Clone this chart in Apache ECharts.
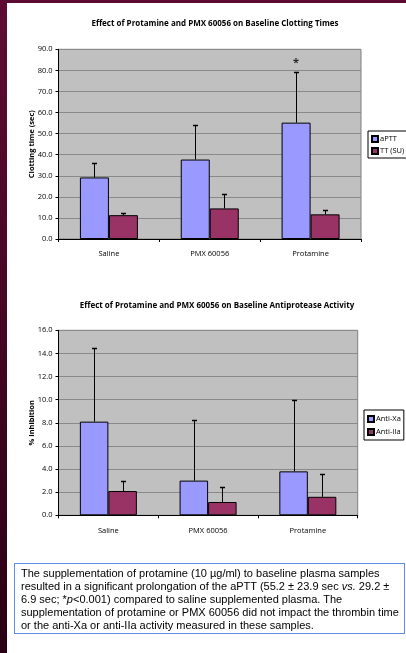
<!DOCTYPE html>
<html>
<head>
<meta charset="utf-8">
<script src="https://cdn.jsdelivr.net/npm/echarts@6/dist/echarts.min.js"></script>
<style>
  html, body { margin:0; padding:0; background:#fff; }
  #wrap { position:relative; width:406px; height:653px; overflow:hidden; background:#fff; }
  #chart { position:absolute; left:0; top:0; width:406px; height:653px; }
  #leftbar { position:absolute; left:0; top:0; width:7px; height:653px; background:linear-gradient(#5e0b33, #2a0014); z-index:5; }
  #topbar { position:absolute; left:0; top:0; width:406px; height:3px; background:#5e0b33; z-index:5; }
  #note { position:absolute; left:14px; top:563px; width:383px; height:66px; border:1px solid #5b8de8; padding:3px 0 0 6px;
          font-family:"Liberation Sans", Arial, sans-serif; font-size:11px; line-height:13.1px; color:#000; white-space:pre; z-index:4; }
</style>
</head>
<body>
<div id="wrap">
  <div id="chart"></div>
  <div id="topbar"></div>
  <div id="leftbar"></div>
  <div id="note">The supplementation of protamine (10 µg/ml) to baseline plasma samples
resulted in a significant prolongation of the aPTT (55.2 ± 23.9 sec <i>vs.</i> 29.2 ±
6.9 sec; *<i>p</i>&lt;0.001) compared to saline supplemented plasma. The
supplementation of protamine or PMX 60056 did not impact the thrombin time
or the anti-Xa or anti-IIa activity measured in these samples.</div>
</div>
<script>
const categories = ['Saline', 'PMX 60056', 'Protamine'];
const aptt = [29.2, 37.7, 55.2];
const apttErr = [6.9, 16.6, 23.9];
const tt = [11.3, 14.5, 11.7];
const ttErr = [0.9, 6.8, 2.0];
const antiXa = [8.1, 3.0, 3.8];
const antiXaErr = [6.4, 5.2, 6.2];
const antiIIa = [2.1, 1.15, 1.6];
const antiIIaErr = [0.9, 1.3, 1.95];
const starPoint = [[2, 84]];

const chart = echarts.init(document.getElementById('chart'), null, {renderer:'canvas'});
const FONT = '"Open Sans", sans-serif';
const BW = 29;

function errRender(offset) {
  return function (params, api) {
    const x = api.value(0), v = api.value(1), e = api.value(2);
    const p0 = api.coord([x, v]);
    const p1 = api.coord([x, v + e]);
    const cx = Math.round(p0[0] + offset) + 0.5;
    const ty = Math.round(p1[1]) + 0.5;
    return {
      type: 'group',
      children: [
        {type:'line', shape:{x1:cx, y1:p0[1], x2:cx, y2:ty}, style:{stroke:'#000', lineWidth:1}},
        {type:'line', shape:{x1:cx-2.5, y1:ty, x2:cx+2.5, y2:ty}, style:{stroke:'#000', lineWidth:1.5}}
      ]
    };
  };
}
function errData(vals, errs) { return vals.map((v, i) => [i, v, errs[i]]); }

function xAxisCfg(gi) {
  return {
    type:'category', gridIndex:gi, data:categories,
    axisLine:{lineStyle:{color:'#000', width:1}},
    axisTick:{show:true, length:3, lineStyle:{color:'#000'}},
    axisLabel:{fontFamily:FONT, fontSize:7.5, color:'#000', margin:gi === 0 ? 11 : 12}
  };
}
function yAxisCfg(gi, max, interval, name) {
  return {
    type:'value', gridIndex:gi, min:0, max:max, interval:interval,
    name:name, nameLocation:'middle', nameGap: 23, nameMoveOverlap:false,
    nameTextStyle:{fontFamily:FONT, fontSize:7.5, fontWeight:'bold', color:'#000'},
    axisLine:{show:true, lineStyle:{color:'#000', width:1}},
    axisTick:{show:true, length:3, lineStyle:{color:'#000'}},
    axisLabel:{fontFamily:FONT, fontSize:7.5, color:'#000', margin:6, formatter: v => v.toFixed(1)},
    splitLine:{show:true, lineStyle:{color:'#8a8a8a', width:1}}
  };
}

const option = {
  animation:false,
  backgroundColor:'transparent',
  title:[
    {text:'Effect of Protamine and PMX 60056 on Baseline Clotting Times', left:210, top:15, textAlign:'center',
     textStyle:{fontFamily:FONT, fontSize:8, fontWeight:'bold', color:'#000'}},
    {text:'Effect of Protamine and PMX 60056 on Baseline Antiprotease Activity', left:212, top:297, textAlign:'center',
     textStyle:{fontFamily:FONT, fontSize:8, fontWeight:'bold', color:'#000'}}
  ],
  grid:[
    {left:58.5, top:49.3, width:302.5, height:189.7, show:true, backgroundColor:'#c0c0c0', borderColor:'#808080', borderWidth:1},
    {left:58.5, top:330.3, width:299.2, height:185, show:true, backgroundColor:'#c0c0c0', borderColor:'#808080', borderWidth:1}
  ],
  legend:[
    {data:['aPTT','TT (SU)'], orient:'vertical', left:368, top:131, padding:[4,3,3,3], itemGap:4,
     itemWidth:6, itemHeight:6, icon:'rect', backgroundColor:'#fff', borderColor:'#000', borderWidth:1,
     textStyle:{fontFamily:FONT, fontSize:7.5, color:'#000', padding:[0,0,0,-3]}},
    {data:['Anti-Xa','Anti-IIa'], orient:'vertical', left:364, top:410, padding:[5,3,4,3], itemGap:5,
     itemWidth:6, itemHeight:6, icon:'rect', backgroundColor:'#fff', borderColor:'#000', borderWidth:1,
     textStyle:{fontFamily:FONT, fontSize:7.5, color:'#000', padding:[0,0,0,-3]}}
  ],
  xAxis:[xAxisCfg(0), xAxisCfg(1)],
  yAxis:[yAxisCfg(0, 90, 10, 'Clotting time (sec)'), yAxisCfg(1, 16, 2, '% Inhibition')],
  series:[
    {name:'aPTT', type:'bar', xAxisIndex:0, yAxisIndex:0, data:aptt, barWidth:BW, barGap:'0%',
     itemStyle:{color:'#9999ff', borderColor:'#000', borderWidth:1}},
    {name:'TT (SU)', type:'bar', xAxisIndex:0, yAxisIndex:0, data:tt, barWidth:BW, barGap:'0%',
     itemStyle:{color:'#993366', borderColor:'#000', borderWidth:1}},
    {type:'custom', xAxisIndex:0, yAxisIndex:0, renderItem:errRender(-BW/2), data:errData(aptt, apttErr), encode:{x:0, y:1}, z:5},
    {type:'custom', xAxisIndex:0, yAxisIndex:0, renderItem:errRender(BW/2), data:errData(tt, ttErr), encode:{x:0, y:1}, z:5},
    {type:'scatter', xAxisIndex:0, yAxisIndex:0, data:starPoint, symbolSize:0,
     label:{show:true, formatter:'*', position:'inside', offset:[-BW/2, 1], fontFamily:FONT, fontSize:11, fontWeight:'bold', color:'#000'}},
    {name:'Anti-Xa', type:'bar', xAxisIndex:1, yAxisIndex:1, data:antiXa, barWidth:28.5, barGap:'0%',
     itemStyle:{color:'#9999ff', borderColor:'#000', borderWidth:1}},
    {name:'Anti-IIa', type:'bar', xAxisIndex:1, yAxisIndex:1, data:antiIIa, barWidth:28.5, barGap:'0%',
     itemStyle:{color:'#993366', borderColor:'#000', borderWidth:1}},
    {type:'custom', xAxisIndex:1, yAxisIndex:1, renderItem:errRender(-14.25), data:errData(antiXa, antiXaErr), encode:{x:0, y:1}, z:5},
    {type:'custom', xAxisIndex:1, yAxisIndex:1, renderItem:errRender(14.25), data:errData(antiIIa, antiIIaErr), encode:{x:0, y:1}, z:5}
  ]
};
chart.setOption(option);
</script>
</body>
</html>
